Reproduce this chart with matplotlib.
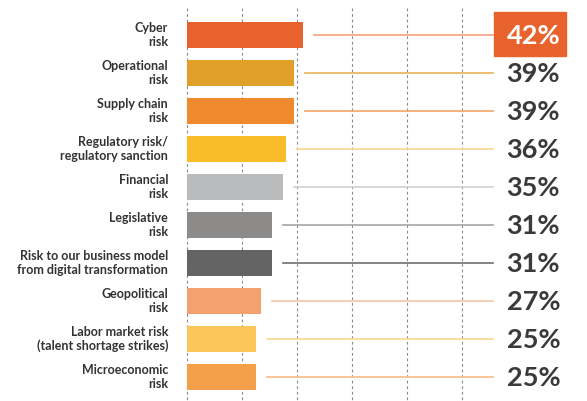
import matplotlib.pyplot as plt
import matplotlib.patches as mpatches

plt.rcParams['font.family'] = ['Lato', 'DejaVu Sans']

categories = ["Cyber\nrisk", "Operational\nrisk", "Supply chain\nrisk",
              "Regulatory risk/\nregulatory sanction", "Financial\nrisk",
              "Legislative\nrisk", "Risk to our business model\nfrom digital transformation",
              "Geopolitical\nrisk", "Labor market risk\n(talent shortage strikes)",
              "Microeconomic\nrisk"]
values = [42, 39, 39, 36, 35, 31, 31, 27, 25, 25]
value_labels = ["42%", "39%", "39%", "36%", "35%", "31%", "31%", "27%", "25%", "25%"]
bar_colors = ["#E8622E", "#E0A02A", "#F08A2E", "#FBBC2A", "#B9BBBD",
              "#8C8B89", "#646464", "#F4A16F", "#FBC659", "#F4A04A"]
line_colors = ["#F2A080", "#E8B455", "#F3A565", "#FCD890", "#D2D2D2",
               "#A5A5A5", "#6E6E6E", "#F7C4A5", "#FDD88E", "#F7BE85"]
grid_ticks = [0, 20, 40, 60, 80, 100]

my_dpi = 100
fig = plt.figure(figsize=(587/my_dpi, 401/my_dpi), dpi=my_dpi)
ax = fig.add_axes([0, 0, 1, 1])
ax.set_xlim(-68, 145.45)
ax.set_ylim(9.632, -0.921)
ax.axis('off')

# dashed grid
for g in grid_ticks:
    ax.plot([g, g], [-0.72, 9.632], ls=(0, (2.5, 2.5)), color='#8a8a8a', lw=0.8, zorder=0)

y = list(range(len(values)))
ax.barh(y, values, height=0.684, color=bar_colors, zorder=2)

line_end = 111.3
for i, v in enumerate(values):
    ax.plot([v + 4, line_end], [i, i], color=line_colors[i], lw=1.2, zorder=1)
    ax.text(-6.9, i, categories[i], ha='right', va='center', fontsize=9.0,
            color='#333333', fontweight='bold', linespacing=1.12)
    txt_color = 'white' if i == 0 else '#3a3a3a'
    ax.text(116.2, i + 0.03, value_labels[i], ha='left', va='center', fontsize=19.5,
            color=txt_color, fontweight='bold', zorder=4)

box = mpatches.Rectangle((111.6, -0.605), 26.2, 1.158, color=bar_colors[0], zorder=3)
ax.add_patch(box)

fig.savefig('out.png', dpi=my_dpi)
